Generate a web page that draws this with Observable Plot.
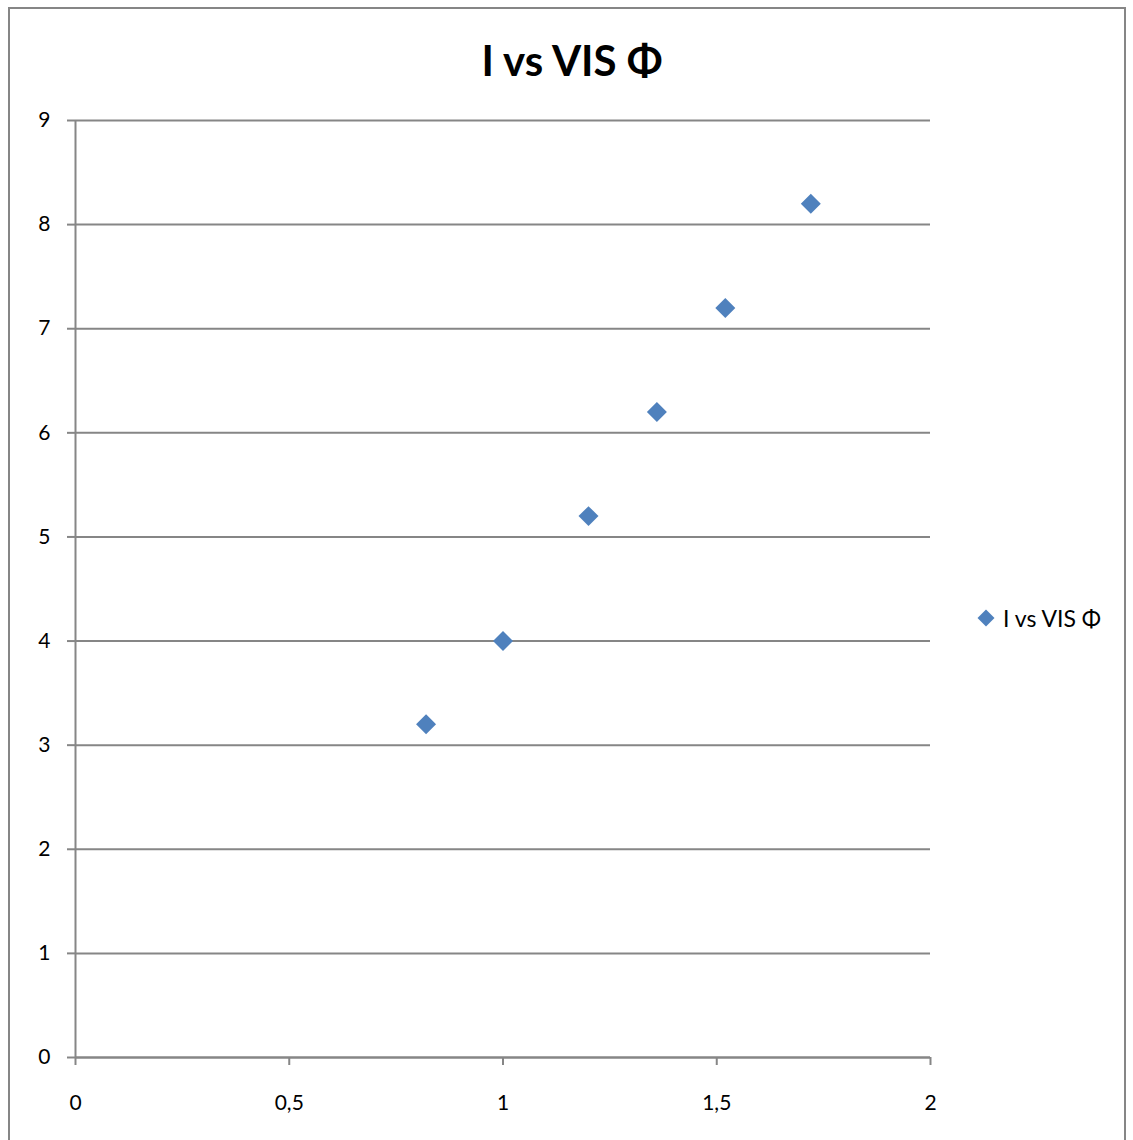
<!DOCTYPE html>
<html>
<head>
<meta charset="utf-8">
<script src="https://cdn.jsdelivr.net/npm/d3@7"></script>
<script src="https://cdn.jsdelivr.net/npm/@observablehq/plot@0.6"></script>
<style>
  html, body { margin: 0; padding: 0; background: #fff; }
  #wrap { position: relative; width: 1133px; height: 1140px; overflow: hidden; font-family: Lato, "Open Sans", sans-serif; }
  #frame { position: absolute; left: 8px; top: 7px; width: 1118px; height: 1200px; border: 2px solid #868686; box-sizing: border-box; pointer-events: none; }
  #title { position: absolute; left: 0; width: 1144px; top: 35px; text-align: center; font-weight: bold; font-size: 42px; color: #000; }
  #legend { position: absolute; left: 976px; top: 604px; font-size: 23px; display: flex; align-items: center; color: #000; }
  #legend svg { margin-right: 7px; }
  #chart { position: absolute; left: 0; top: 0; }
</style>
</head>
<body>
<div id="wrap">
  <div id="chart"></div>
  <div id="frame"></div>
  <div id="title"></div>
  <div id="legend"></div>
</div>
<script>
const seriesName = "I vs VIS Φ";
const xValues = [0.82, 1.0, 1.2, 1.36, 1.52, 1.72];
const yValues = [3.2, 4.0, 5.2, 6.2, 7.2, 8.2];
const xTicks = [0, 0.5, 1, 1.5, 2];
const yTicks = [0, 1, 2, 3, 4, 5, 6, 7, 8, 9];

const data = xValues.map((x, i) => ({x, y: yValues[i]}));
const fmt = d => String(d).replace(".", ",");

const chart = Plot.plot({
  width: 1133,
  height: 1140,
  marginLeft: 75,
  marginRight: 203,
  marginTop: 120,
  marginBottom: 83,
  style: {fontFamily: "Lato, 'Open Sans', sans-serif", fontSize: "21px", color: "#000", background: "transparent"},
  x: {domain: [0, 2]},
  y: {domain: [0, 9]},
  marks: [
    Plot.gridY(yTicks, {stroke: "#868686", strokeOpacity: 1, strokeWidth: 2}),
    Plot.ruleX([0], {stroke: "#868686", strokeWidth: 2}),
    Plot.ruleY([0], {stroke: "#868686", strokeWidth: 2}),
    Plot.axisY(yTicks, {tickSize: 8, tickPadding: 17, fontSize: 21, stroke: "#868686", strokeWidth: 2, strokeOpacity: 1, fill: "#000", label: null, tickFormat: fmt}),
    Plot.axisX(xTicks, {tickSize: 8, tickPadding: 30, fontSize: 21, stroke: "#868686", strokeWidth: 2, strokeOpacity: 1, fill: "#000", label: null, tickFormat: fmt}),
    Plot.dot(data, {x: "x", y: "y", symbol: "diamond2", r: 9, fill: "#4F81BD", stroke: "none"})
  ]
});
document.getElementById("chart").appendChild(chart);
document.getElementById("title").textContent = seriesName;
document.getElementById("legend").innerHTML =
  '<svg width="20" height="20" viewBox="-10 -10 20 20"><path d="M0,-8.5L8.5,0L0,8.5L-8.5,0Z" fill="#4F81BD"/></svg><span></span>';
document.querySelector("#legend span").textContent = seriesName;
</script>
</body>
</html>
